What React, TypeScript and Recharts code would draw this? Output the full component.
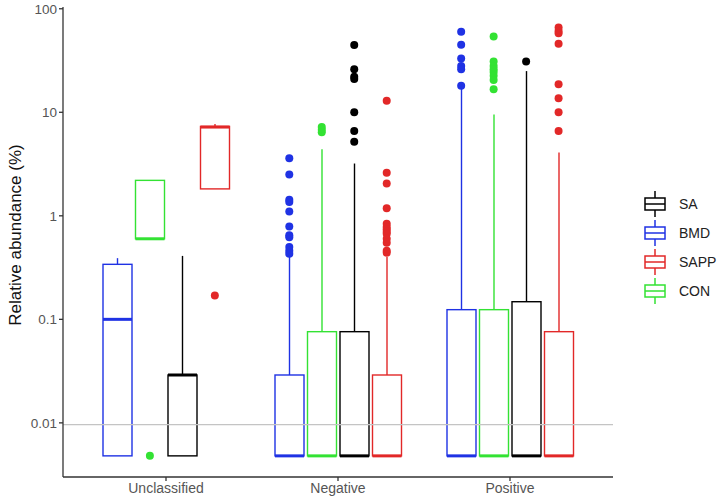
import React from 'react';
import {
  ComposedChart,
  Bar,
  Scatter,
  XAxis,
  YAxis,
  ReferenceLine,
} from 'recharts';

// groups on the x axis
const CATEGORIES = ['Unclassified', 'Negative', 'Positive'];

// dodge order inside each group
const SERIES = ['BMD', 'CON', 'SA', 'SAPP'];
// legend order
const LEGEND_ORDER = ['SA', 'BMD', 'SAPP', 'CON'];

const COLORS: Record<string, string> = {
  BMD: '#1f32e4',
  CON: '#33e233',
  SA: '#000000',
  SAPP: '#e22828',
};

// [lower whisker, q1, median, q3, upper whisker] per category
const BMD_STATS = [
  [0.0048, 0.0048, 0.1, 0.34, 0.39],
  [0.0048, 0.0048, 0.0048, 0.029, 0.42],
  [0.0048, 0.0048, 0.0048, 0.124, 17.5],
];
const CON_STATS = [
  [0.6, 0.6, 0.6, 2.2, 2.22],
  [0.0048, 0.0048, 0.0048, 0.076, 4.4],
  [0.0048, 0.0048, 0.0048, 0.124, 9.5],
];
const SA_STATS = [
  [0.0048, 0.0048, 0.029, 0.029, 0.41],
  [0.0048, 0.0048, 0.0048, 0.076, 3.2],
  [0.0048, 0.0048, 0.0048, 0.148, 25],
];
const SAPP_STATS = [
  [1.82, 1.82, 7.2, 7.3, 7.7],
  [0.0048, 0.0048, 0.0048, 0.029, 0.4],
  [0.0048, 0.0048, 0.0048, 0.076, 4.1],
];

// outliers per category
const BMD_OUTLIERS = [
  [],
  [3.6, 2.5, 1.43, 1.36, 1.1, 0.79, 0.65, 0.62, 0.5, 0.46, 0.43],
  [60, 45, 33, 28, 26, 18],
];
const CON_OUTLIERS = [
  [0.0048],
  [7.2, 6.8, 6.4],
  [54, 31, 28, 26, 24.5, 22.5, 20.5, 16.7],
];
const SA_OUTLIERS = [
  [],
  [44.6, 26, 22, 21, 10, 6.6, 5.2],
  [31],
];
const SAPP_OUTLIERS = [
  [0.17],
  [12.9, 2.6, 2.05, 1.18, 0.84, 0.78, 0.74, 0.7, 0.67, 0.6, 0.55, 0.46, 0.44],
  [66, 61, 58, 46, 18.7, 13.7, 10, 6.6],
];

const Y_TICKS = [0.01, 0.1, 1, 10, 100];
const THRESHOLD = 0.0096;

const STATS: Record<string, number[][]> = {
  BMD: BMD_STATS,
  CON: CON_STATS,
  SA: SA_STATS,
  SAPP: SAPP_STATS,
};
const OUTLIERS: Record<string, number[][]> = {
  BMD: BMD_OUTLIERS,
  CON: CON_OUTLIERS,
  SA: SA_OUTLIERS,
  SAPP: SAPP_OUTLIERS,
};

const data = CATEGORIES.map((name, i) => {
  const row: any = { name };
  SERIES.forEach((s) => {
    row[s] = STATS[s][i];
  });
  return row;
});

// dodge width of one box slot, in category units
const DODGE = 32.5 / 172;

const outlierData = (s: string, si: number) =>
  OUTLIERS[s].flatMap((vals, ci) =>
    vals.map((v) => ({ x: ci + (si - 1.5) * DODGE, y: v }))
  );

// range accessor for a bar: stats indexes a..b of series s
const range = (s: string, a: number, b: number) => (d: any) =>
  d && d[s] ? [d[s][a], d[s][b]] : null;

const FONT = '"Liberation Sans", Arial, sans-serif';
const PAD = { left: 17, right: 17 };

const LegendIcon = ({ color }: { color: string }) => (
  <svg width={24} height={28}>
    <line x1={12} x2={12} y1={1} y2={8} stroke={color} strokeWidth={1.5} />
    <line x1={12} x2={12} y1={20} y2={27} stroke={color} strokeWidth={1.5} />
    <rect x={2} y={8} width={20} height={12} fill="none" stroke={color} strokeWidth={1.5} />
    <line x1={2} x2={22} y1={14} y2={14} stroke={color} strokeWidth={1.5} />
  </svg>
);

const vline = (color: string) => (p: any) =>
  p && p.height != null ? (
    <line
      x1={p.x + p.width / 2}
      x2={p.x + p.width / 2}
      y1={p.y}
      y2={p.y + p.height}
      stroke={color}
      strokeWidth={1.4}
    />
  ) : null;

export default function App() {
  return (
    <div style={{ position: 'absolute', left: 0, top: 0, width: 722, height: 503, background: '#fff', fontFamily: FONT }}>
      <ComposedChart
        width={722}
        height={503}
        data={data}
        margin={{ top: 7, right: 109, bottom: 0, left: 0 }}
        barSize={29}
        barGap={3.5}
      >
        <XAxis
          xAxisId="box"
          dataKey="name"
          type="category"
          padding={PAD}
          height={26}
          stroke="#333"
          strokeWidth={1.3}
          tickSize={4}
          tick={{ fill: '#555', fontSize: 14, fontFamily: FONT }}
        />
        <XAxis xAxisId="up" dataKey="name" type="category" padding={PAD} hide />
        <XAxis xAxisId="lo" dataKey="name" type="category" padding={PAD} hide />
        <XAxis xAxisId="med" dataKey="name" type="category" padding={PAD} hide />
        <XAxis xAxisId="pts" dataKey="x" type="number" domain={[-0.6, 2.6]} allowDataOverflow hide />
        <YAxis
          scale="log"
          domain={[0.003, 104]}
          allowDataOverflow
          ticks={Y_TICKS}
          tickFormatter={(v) => String(v)}
          width={63}
          stroke="#333"
          strokeWidth={1.3}
          tickSize={4}
          tick={{ fill: '#555', fontSize: 13.5, fontFamily: FONT }}
          label={{
            value: 'Relative abundance (%)',
            angle: -90,
            position: 'center',
            dx: -17,
            dy: -7,
            style: { fill: '#111', fontSize: 17, fontFamily: FONT },
          }}
        />
        <ReferenceLine xAxisId="box" y={THRESHOLD} stroke="#c4c4c4" strokeWidth={1.2} />
        {SERIES.map((s) => (
          <Bar
            key={`up-${s}`}
            xAxisId="up"
            dataKey={range(s, 3, 4)}
            isAnimationActive={false}
            shape={vline(COLORS[s])}
          />
        ))}
        {SERIES.map((s) => (
          <Bar
            key={`lo-${s}`}
            xAxisId="lo"
            dataKey={range(s, 0, 1)}
            isAnimationActive={false}
            shape={vline(COLORS[s])}
          />
        ))}
        {SERIES.map((s) => (
          <Bar
            key={`box-${s}`}
            xAxisId="box"
            dataKey={range(s, 1, 3)}
            isAnimationActive={false}
            shape={(p: any) => (
              <rect
                x={p.x}
                y={p.y}
                width={p.width}
                height={p.height}
                fill="none"
                stroke={COLORS[s]}
                strokeWidth={1.4}
              />
            )}
          />
        ))}
        {SERIES.map((s) => (
          <Bar
            key={`med-${s}`}
            xAxisId="med"
            dataKey={range(s, 2, 2)}
            isAnimationActive={false}
            shape={(p: any) => (
              <line
                x1={p.x}
                x2={p.x + p.width}
                y1={p.y + p.height / 2}
                y2={p.y + p.height / 2}
                stroke={COLORS[s]}
                strokeWidth={3}
              />
            )}
          />
        ))}
        {SERIES.map((s, si) => (
          <Scatter
            key={`out-${s}`}
            xAxisId="pts"
            data={outlierData(s, si)}
            dataKey="y"
            isAnimationActive={false}
            shape={(p: any) => <circle cx={p.cx} cy={p.cy} r={4} fill={COLORS[s]} />}
          />
        ))}
      </ComposedChart>
      <div style={{ position: 'absolute', left: 643, top: 189 }}>
        {LEGEND_ORDER.map((s) => (
          <div key={s} style={{ display: 'flex', alignItems: 'center', height: 29 }}>
            <LegendIcon color={COLORS[s]} />
            <span style={{ marginLeft: 12, fontSize: 14, color: '#222' }}>{s}</span>
          </div>
        ))}
      </div>
    </div>
  );
}
